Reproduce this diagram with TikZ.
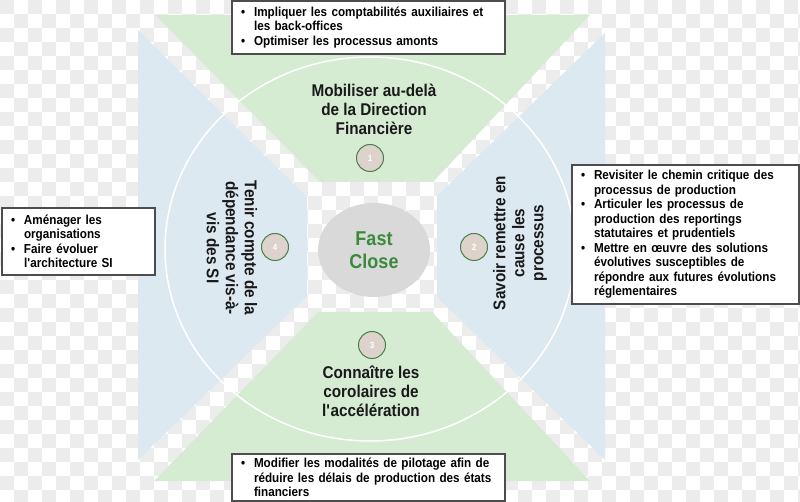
\documentclass[tikz,border=0pt]{standalone}
\usepackage{fontspec}
\setmainfont{Liberation Sans}[FakeStretch=0.9]
\usetikzlibrary{shapes.geometric}

\definecolor{vertclair}{RGB}{213,236,211}
\definecolor{bleuclair}{RGB}{221,233,241}
\definecolor{damier}{RGB}{236,236,236}
\definecolor{grisdisque}{RGB}{217,217,217}
\definecolor{vertfast}{RGB}{58,138,58}
\definecolor{pastille}{RGB}{221,211,204}
\definecolor{vertfonce}{RGB}{74,127,74}
\definecolor{cadre}{RGB}{77,77,77}

\newcommand{\puce}{\makebox[13pt][l]{\textbullet}}
\newcommand{\suite}{\hspace*{13pt}}

\begin{document}
\begin{tikzpicture}[x=1pt,y=-1pt]
                % Define styles for different elements
                \tikzstyle{axe} = [align=center, text=black!90, font=\fontsize{17}{19}\selectfont\bfseries]
                \tikzstyle{coeur} = [ellipse, fill=grisdisque, minimum width=112, minimum height=94, align=center, text=vertfast, font=\fontsize{20}{23}\selectfont\bfseries]
                \tikzstyle{numero} = [circle, draw=vertfonce, fill=pastille, line width=1pt, minimum size=27, inner sep=0pt, text=white, font=\fontsize{9}{10}\selectfont\bfseries]
                \tikzstyle{encadre} = [rectangle, draw=cadre, fill=white, line width=1.2pt, inner xsep=9pt, inner ysep=0pt, align=left, font=\fontsize{13}{14.5}\selectfont\bfseries]

                \useasboundingbox (0,0) rectangle (800,502);

                % Checkered background
                \begin{scope}
                \clip (0,0) rectangle (800,502);
                \foreach \i in {0,...,28}
                    \foreach \j in {0,...,36}
                        \fill[damier] ({(2*\i+mod(\j,2))*14},{\j*14}) rectangle ++(14,14);
                \end{scope}

                % The four sectors
                \fill[vertclair] (155,15) -- (590,15) -- (433,182) -- (320,182) -- cycle;
                \fill[vertclair] (154,481) -- (590,481) -- (432,312) -- (318,312) -- cycle;
                \fill[bleuclair] (138,30) -- (307,197) -- (307,296) -- (138,460) -- cycle;
                \fill[bleuclair] (605,33) -- (437,196) -- (437,297) -- (605,460) -- cycle;

                % Outer ring
                \draw[white, line width=1.5pt] (370,249) ellipse [x radius=205, y radius=192];

                % Centre
                \node[coeur] (fastclose) at (374,250) {Fast\\Close};

                % Numbered axes
                \node[numero] (n1) at (370,158) {1};
                \node[numero] (n2) at (474,247) {2};
                \node[numero] (n3) at (372,345) {3};
                \node[numero] (n4) at (275,247) {4};

                \node[axe] (axe1) at (374,109) {Mobiliser au-delà\\de la Direction\\Financière};
                \node[axe, rotate=90] (axe2) at (520,243) {Savoir remettre en\\cause les\\processus};
                \node[axe] (axe3) at (371,391) {Connaître les\\corolaires de\\l\textquotesingle accélération};
                \node[axe, rotate=-90] (axe4) at (232,248) {Tenir compte de la\\dépendance vis-à-\\vis des SI};

                % Action boxes
                \node[encadre, minimum width=273, minimum height=53, text width=255] (actions1) at (368.5,27.5)
                    {\puce Impliquer les comptabilités auxiliaires et\\\suite les back-offices\\\puce Optimiser les processus amonts};
                \node[encadre, minimum width=227, minimum height=139, text width=209] (actions2) at (685.5,234.5)
                    {\puce Revisiter le chemin critique des\\\suite processus de production\\\puce Articuler les processus de\\\suite production des reportings\\\suite statutaires et prudentiels\\\puce Mettre en œuvre des solutions\\\suite évolutives susceptibles de\\\suite répondre aux futures évolutions\\\suite réglementaires};
                \node[encadre, minimum width=273, minimum height=47, text width=255] (actions3) at (368.5,477.5)
                    {\puce Modifier les modalités de pilotage afin de\\\suite réduire les délais de production des états\\\suite financiers};
                \node[encadre, minimum width=153, minimum height=67, text width=135] (actions4) at (78.5,241.5)
                    {\puce Aménager les\\\suite organisations\\\puce Faire évoluer\\\suite l\textquotesingle architecture SI};
            \end{tikzpicture}
\end{document}
